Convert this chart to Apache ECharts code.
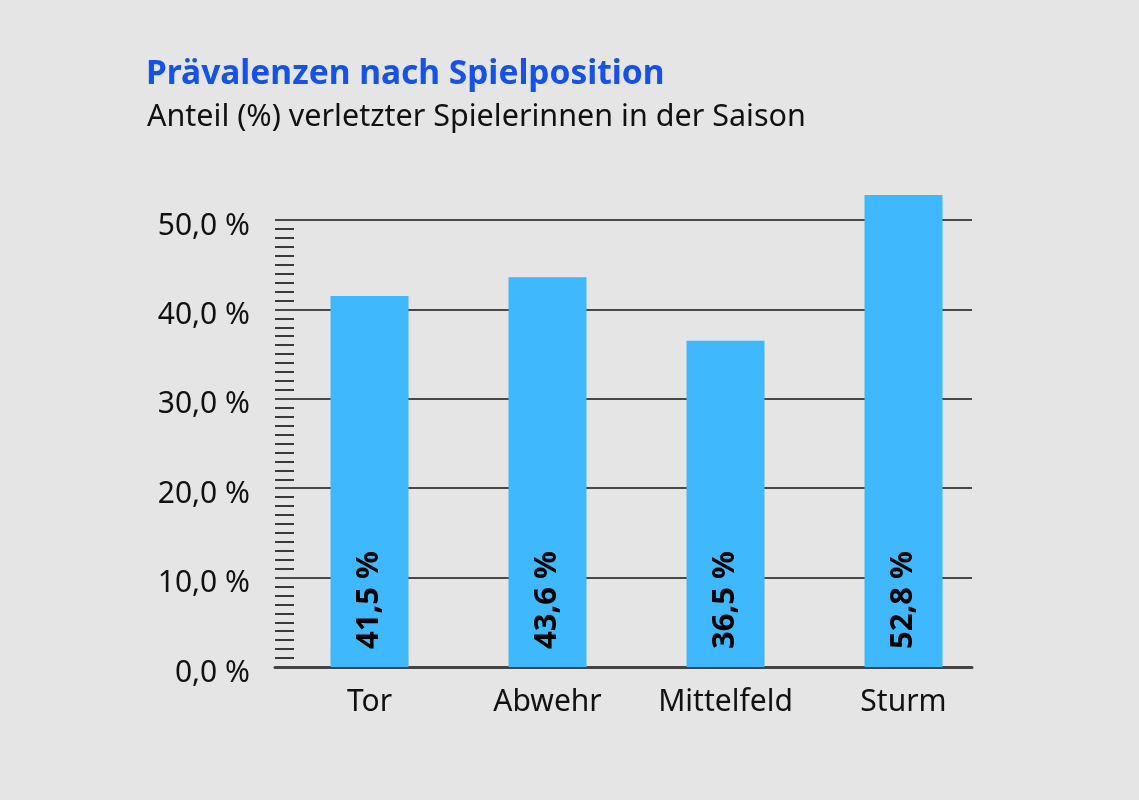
<!DOCTYPE html>
<html>
<head>
<meta charset="utf-8">
<script src="https://cdn.jsdelivr.net/npm/echarts@6/dist/echarts.min.js"></script>
<style>
html,body{margin:0;padding:0;background:#e5e5e5;}
#c{width:1139px;height:800px;}
</style>
</head>
<body>
<div id="c"></div>
<script>
const categories = ['Tor', 'Abwehr', 'Mittelfeld', 'Sturm'];
const values = [41.5, 43.6, 36.5, 52.8];
const yTicks = [0, 10, 20, 30, 40, 50];

const FONT = 'Noto Sans';
const chart = echarts.init(document.getElementById('c'), null, {renderer: 'canvas'});
const fmt = v => v.toFixed(1).replace('.', ',') + ' %';

chart.setOption({
  backgroundColor: '#e5e5e5',
  animation: false,
  title: [
    {text: 'Prävalenzen nach Spielposition', left: 141, top: 52,
     textStyle: {fontFamily: FONT, fontSize: 33.5, fontWeight: 'bold', color: '#1652e6'}},
    {text: 'Anteil (%) verletzter Spielerinnen in der Saison', left: 142, top: 97,
     textStyle: {fontFamily: FONT, fontSize: 30.5, fontWeight: 'normal', color: '#111'}}
  ],
  grid: [
    {left: 275, right: 167, top: 220, bottom: 133},
    {left: 280.5, right: 146.5, top: 220, bottom: 133}
  ],
  xAxis: [
    {type: 'category', gridIndex: 0, data: categories,
     axisLine: {show: true, lineStyle: {color: '#444', width: 3}},
     axisTick: {show: false}, axisLabel: {show: false}, splitLine: {show: false}},
    {type: 'category', gridIndex: 1, data: categories,
     axisLine: {show: false}, axisTick: {show: false},
     axisLabel: {show: true, margin: 20, fontFamily: FONT, fontSize: 30, color: '#111'}}
  ],
  yAxis: [
    {type: 'value', gridIndex: 0, min: yTicks[0], max: yTicks[yTicks.length - 1], interval: 10,
     axisLine: {show: false},
     axisTick: {show: false, inside: true},
     minorTick: {show: true, splitNumber: 10, length: 19, lineStyle: {color: '#3a3a3a', width: 2}},
     axisLabel: {show: true, margin: 25, color: '#111',
                 formatter: v => '{a|' + fmt(v) + '}',
                 rich: {a: {fontFamily: FONT, fontSize: 30, color: '#111', padding: [12, 0, 0, 0]}}},
     splitLine: {show: true, lineStyle: {color: '#484848', width: 2}},
     minorSplitLine: {show: false}},
    {type: 'value', gridIndex: 1, min: yTicks[0], max: yTicks[yTicks.length - 1], interval: 10,
     show: false}
  ],
  series: [
    {type: 'bar', xAxisIndex: 1, yAxisIndex: 1, data: values, barWidth: 78, clip: false,
     itemStyle: {color: '#3fb8fe'},
     label: {show: true, position: 'insideBottom', distance: 18, rotate: 90,
             align: 'left', verticalAlign: 'middle',
             fontFamily: FONT, fontSize: 31, fontWeight: 'bold', color: '#000',
             formatter: p => fmt(p.value)}}
  ]
});
</script>
</body>
</html>
